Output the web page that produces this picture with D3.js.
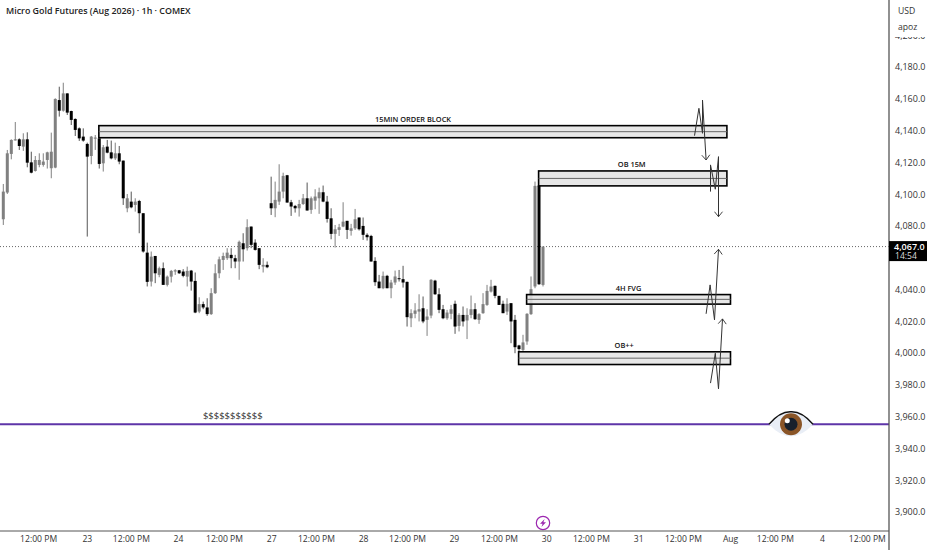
<!DOCTYPE html>
<html>
<head>
<meta charset="utf-8">
<script src="https://cdn.jsdelivr.net/npm/d3@7/dist/d3.min.js"></script>
<style>
html,body{margin:0;padding:0;background:#fff;overflow:hidden}
svg{display:block}
text{font-family:"Open Sans","Noto Sans",sans-serif}
</style>
</head>
<body>
<svg id="chart" width="932" height="550"></svg>
<script>
const title = "Micro Gold Futures (Aug 2026) · 1h · COMEX";
const opens = [4084.2,4101.0,4125.3,4133.8,4134.5,4129.9,4134.5,4120.0,4114.6,4118.4,4118.4,4121.5,4116.3,4116.7,4159.2,4152.5,4163.4,4152.3,4147.3,4141.4,4136.2,4131.6,4124.0,4134.9,4135.1,4119.4,4129.9,4126.3,4122.5,4125.7,4121.1,4091.1,4095.3,4093.2,4095.7,4088.0,4063.2,4045.0,4061.1,4049.2,4053.4,4042.9,4048.1,4051.3,4052.1,4051.3,4048.1,4051.9,4045.4,4026.1,4030.8,4028.7,4024.5,4037.7,4050.2,4058.6,4059.7,4061.8,4059.7,4057.6,4069.1,4066.0,4079.6,4069.5,4066.0,4054.4,4055.5,4094.3,4091.1,4095.3,4101.6,4111.9,4094.9,4092.6,4091.1,4093.8,4097.4,4090.1,4095.9,4097.4,4101.2,4095.3,4084.8,4075.0,4077.5,4079.6,4083.2,4076.9,4078.5,4085.3,4080.0,4074.4,4073.7,4058.0,4045.0,4040.8,4048.6,4040.8,4044.4,4047.1,4046.5,4044.8,4021.9,4024.7,4026.1,4028.2,4020.9,4023.6,4045.6,4037.0,4027.6,4021.9,4024.7,4031.0,4017.1,4024.0,4020.5,4024.0,4027.6,4020.9,4025.1,4030.3,4038.7,4042.3,4036.0,4031.0,4026.1,4031.4,4020.9,4004.8,4002.0,4007.3,4024.5,4041.9,4105.4,4042.9];
const closes = [4101.6,4125.7,4134.1,4134.5,4130.3,4134.5,4119.8,4113.5,4121.5,4121.5,4120.5,4126.3,4126.7,4159.9,4152.5,4163.4,4151.3,4146.7,4140.4,4135.1,4133.7,4123.6,4136.2,4135.6,4119.0,4129.5,4126.1,4122.5,4125.7,4120.5,4097.4,4097.4,4091.7,4095.3,4088.0,4063.9,4044.8,4060.7,4050.2,4053.4,4042.9,4048.1,4051.7,4052.1,4050.2,4048.6,4051.7,4045.0,4025.5,4030.8,4028.7,4024.5,4037.7,4050.2,4059.0,4061.1,4063.2,4059.7,4057.6,4070.0,4065.3,4079.2,4068.1,4064.9,4055.5,4055.5,4054.0,4091.1,4096.4,4101.6,4111.5,4094.7,4092.2,4091.1,4093.8,4097.4,4089.7,4097.4,4098.5,4101.2,4095.3,4084.4,4075.0,4077.9,4079.2,4082.7,4077.5,4078.5,4084.2,4077.9,4074.4,4072.9,4057.6,4044.6,4040.8,4048.6,4040.8,4044.4,4048.2,4046.5,4044.4,4022.6,4025.1,4026.8,4027.6,4019.9,4023.0,4046.1,4037.0,4027.2,4021.9,4025.5,4027.6,4016.7,4024.0,4019.9,4024.0,4027.6,4021.3,4024.5,4030.8,4039.1,4041.9,4036.0,4030.3,4025.1,4031.0,4019.9,4003.7,4002.5,4006.7,4024.7,4040.2,4105.2,4043.3,4067.0];
const highs = [4106.4,4127.8,4134.5,4145.4,4135.1,4138.3,4138.9,4126.7,4124.0,4125.7,4125.7,4126.7,4138.7,4160.3,4167.6,4170.1,4163.4,4152.5,4147.7,4142.0,4141.4,4132.4,4136.6,4137.2,4135.1,4130.9,4134.1,4133.7,4132.4,4130.3,4121.1,4100.1,4101.6,4097.4,4096.4,4088.0,4069.5,4063.9,4061.1,4054.4,4057.0,4048.8,4052.3,4052.8,4052.3,4052.8,4054.4,4052.3,4050.7,4035.1,4032.4,4034.5,4040.8,4055.9,4060.7,4063.2,4066.0,4066.0,4061.8,4070.8,4075.4,4084.2,4079.6,4071.6,4066.0,4059.7,4057.6,4111.0,4107.9,4118.8,4113.5,4112.1,4096.4,4093.2,4096.4,4100.1,4107.3,4098.5,4103.1,4104.1,4105.4,4098.9,4091.1,4080.6,4081.3,4094.9,4083.2,4081.3,4090.7,4085.3,4085.3,4075.4,4074.4,4060.3,4049.2,4051.3,4049.2,4046.1,4051.9,4052.3,4054.9,4045.0,4027.6,4031.4,4037.0,4035.6,4027.6,4046.5,4046.1,4040.8,4030.3,4027.2,4030.3,4033.0,4025.1,4029.3,4028.2,4036.2,4031.4,4025.1,4037.7,4042.9,4046.1,4042.5,4036.0,4033.0,4034.5,4031.4,4024.0,4005.2,4011.5,4025.1,4048.2,4107.9,4105.4,4067.0];
const lows = [4080.6,4100.1,4121.9,4133.7,4127.8,4127.2,4116.9,4113.1,4114.2,4116.9,4117.3,4116.1,4110.0,4116.3,4148.8,4151.9,4149.8,4143.5,4136.6,4133.5,4133.0,4073.3,4118.8,4127.8,4116.1,4114.2,4125.7,4121.9,4121.5,4118.8,4093.2,4088.6,4091.1,4089.0,4075.4,4063.2,4041.9,4041.9,4044.0,4047.7,4042.9,4041.9,4044.4,4049.2,4049.8,4047.7,4041.9,4039.3,4025.1,4025.1,4027.6,4023.4,4024.0,4037.2,4047.1,4052.3,4058.6,4053.4,4053.4,4046.1,4057.6,4064.5,4066.0,4064.5,4052.8,4050.7,4053.4,4086.9,4085.5,4093.2,4097.4,4094.7,4086.3,4088.4,4085.9,4093.2,4089.7,4087.6,4090.5,4087.6,4094.9,4082.1,4071.6,4066.4,4073.7,4079.2,4071.8,4073.9,4077.5,4077.1,4071.2,4070.8,4057.6,4042.3,4040.8,4040.2,4040.8,4034.5,4042.9,4045.0,4041.2,4016.7,4016.3,4021.9,4019.9,4018.8,4010.8,4021.9,4036.6,4025.1,4021.3,4020.9,4021.3,4012.1,4013.6,4016.7,4008.8,4021.9,4020.9,4018.4,4024.7,4029.7,4038.1,4034.5,4030.3,4025.1,4024.0,4006.2,3999.9,4001.0,4001.0,4005.2,4024.0,4040.8,4042.9,4041.9];
const priceTicks = [4200,4180,4160,4140,4120,4100,4080,4040,4020,4000,3980,3960,3940,3920,3900];
const timeTickBars = [8.7,20.9,31.9,43.7,55.2,67,78.2,90,101,112.7,124,135.8,147,158.8,170,181.8,193,204.8,216];
const timeTickLabels = ["12:00 PM","23","12:00 PM","24","12:00 PM","27","12:00 PM","28","12:00 PM","29","12:00 PM","30","12:00 PM","31","12:00 PM","Aug","12:00 PM","4","12:00 PM"];
const zoneNames = ["15MIN ORDER BLOCK","OB 15M","4H FVG","OB++"];
const zoneStartBar = [23.9,133.9,130.9,128.9];
const zoneEndBar = [181.0,181.0,181.9,181.9];
const zoneTop = [4143.1,4114.6,4036.8,4000.8];
const zoneBottom = [4135.5,4105.2,4030.8,3992.8];
const zoneLabelBar = [102.5,157.2,156.4,155.3];
const pathBars = [[172.9,174.0,174.9,174.9,175.8],[176.9,176.9,178.1,178.9,178.9],[175.8,176.8,177.9,178.9],[176.9,178.1,178.9,179.9]];
const pathPrices = [[4136.8,4154.0,4138.3,4159.2,4121.5],[4101.6,4118.4,4103.1,4123.6,4085.8],[4024.7,4042.9,4020.9,4065.3],[3981.1,3999.9,3977.5,4021.5]];
const lastPrice = 4067.0;
const countdown = "14:54";
const liquidityPrice = 3955.2;
const liquidityLabel = "$$$$$$$$$$$";
const currency = "USD";
const user = "apoz";

const svg = d3.select("#chart");
const x = d3.scaleLinear().domain([0,135]).range([3.3,543]);
const y = d3.scaleLinear().domain([4180,3900]).range([67,512]);
const axisX = 889, axisY = 531;
const upColor = "#808080", downColor = "#000";
const plot = svg.append("g");

plot.append("line").attr("x1",0).attr("x2",axisX).attr("y1",y(lastPrice)).attr("y2",y(lastPrice))
  .attr("stroke","#666").attr("stroke-width",1).attr("stroke-dasharray","1 2");

const bars = d3.range(opens.length);
plot.selectAll("line.wick").data(bars).join("line").attr("class","wick")
  .attr("x1",i=>x(i)).attr("x2",i=>x(i)).attr("y1",i=>y(highs[i])).attr("y2",i=>y(lows[i]))
  .attr("stroke",i=>closes[i]>=opens[i]?upColor:"#555").attr("stroke-width",1);
plot.selectAll("rect.body").data(bars).join("rect").attr("class","body")
  .attr("x",i=>x(i)-1.5).attr("width",3)
  .attr("y",i=>y(Math.max(opens[i],closes[i])))
  .attr("height",i=>Math.max(1,Math.abs(y(opens[i])-y(closes[i]))))
  .attr("fill",i=>closes[i]>=opens[i]?upColor:downColor);

zoneNames.forEach((n,i)=>{
  const g = plot.append("g");
  g.append("rect").attr("x",x(zoneStartBar[i])).attr("width",x(zoneEndBar[i])-x(zoneStartBar[i]))
    .attr("y",y(zoneTop[i])).attr("height",y(zoneBottom[i])-y(zoneTop[i]))
    .attr("fill","#e4e4e4").attr("fill-opacity",0.88).attr("stroke","#000").attr("stroke-width",1.6);
  const mid = (zoneTop[i]+zoneBottom[i])/2;
  g.append("line").attr("x1",x(zoneStartBar[i])).attr("x2",x(zoneEndBar[i])).attr("y1",y(mid)).attr("y2",y(mid))
    .attr("stroke","#666").attr("stroke-width",1);
  g.append("text").attr("x",x(zoneLabelBar[i])).attr("y",y(zoneTop[i])-3.5)
    .attr("text-anchor","middle").attr("font-size",7.4).attr("font-weight",600).attr("fill","#111").text(n);
});

const defs = svg.append("defs");
defs.append("marker").attr("id","arrow").attr("viewBox","-6 -5 7 10").attr("refX",0).attr("refY",0)
  .attr("markerWidth",7).attr("markerHeight",10).attr("markerUnits","userSpaceOnUse").attr("orient","auto")
  .append("path").attr("d","M-5,-4L0,0L-5,4").attr("fill","none").attr("stroke","#333").attr("stroke-width",0.9);
const pathLine = d3.line().x(d=>x(d[0])).y(d=>y(d[1]));
pathBars.forEach((b,i)=>{
  plot.append("path").datum(b.map((v,j)=>[v,pathPrices[i][j]])).attr("d",pathLine)
    .attr("fill","none").attr("stroke","#333").attr("stroke-width",1).attr("marker-end","url(#arrow)");
});

plot.append("line").attr("x1",0).attr("x2",axisX).attr("y1",y(liquidityPrice)).attr("y2",y(liquidityPrice))
  .attr("stroke","#5e35a8").attr("stroke-width",2);
plot.append("text").attr("x",x(57.4)).attr("y",y(liquidityPrice)-5).attr("text-anchor","middle")
  .attr("font-size",9.5).attr("fill","#333").text(liquidityLabel);

const eye = plot.append("g").attr("transform",`translate(791,${y(liquidityPrice)})`);
eye.append("path").attr("d","M-22,0Q-11,-13 0,-12.5Q11,-13 22,0Q11,12 0,12Q-11,12 -22,0Z").attr("fill","#e9eef6");
eye.append("path").attr("d","M-22,0Q-11,-13 0,-12.5Q11,-13 22,0").attr("fill","none").attr("stroke","#111").attr("stroke-width",1.3);
eye.append("circle").attr("r",11).attr("fill","#8a5527");
eye.append("circle").attr("r",6.5).attr("fill","#17202c");
eye.append("circle").attr("cx",-3.7).attr("cy",-3.6).attr("r",2.5).attr("fill","#fff");

const bolt = plot.append("g").attr("transform","translate(543,523)");
bolt.append("circle").attr("r",6.7).attr("fill","#fff").attr("stroke","#9c27b0").attr("stroke-width",1.2);
bolt.append("path").attr("d","M1.6,-4L-3,0.8L-0.4,0.8L-1.6,4L3,-0.8L0.4,-0.8Z").attr("fill","#9c27b0");

const yAxis = d3.axisRight(y).tickValues(priceTicks).tickSize(0).tickPadding(6).tickFormat(d3.format(",.1f"));
const gy = svg.append("g").attr("transform",`translate(${axisX},0)`).call(yAxis);
gy.select(".domain").remove();
gy.selectAll("text").attr("font-size",9).attr("fill","#333");

const xAxis = d3.axisBottom(x).tickValues(timeTickBars).tickSize(0).tickPadding(5)
  .tickFormat((d,i)=>timeTickLabels[i]);
const gx = svg.append("g").attr("transform",`translate(0,${axisY})`).call(xAxis);
gx.select(".domain").remove();
gx.selectAll("text").attr("font-size",8.6).attr("fill","#333");

svg.append("line").attr("x1",0).attr("x2",axisX).attr("y1",axisY).attr("y2",axisY).attr("stroke","#555").attr("stroke-width",1);
svg.append("line").attr("x1",axisX).attr("x2",axisX).attr("y1",0).attr("y2",550).attr("stroke","#555").attr("stroke-width",1.3);

svg.append("rect").attr("x",892).attr("y",0).attr("width",38).attr("height",37).attr("fill","#fff");
svg.append("text").attr("x",898).attr("y",14).attr("font-size",8.6).attr("fill","#333").text(currency);
svg.append("text").attr("x",898).attr("y",30).attr("font-size",8.6).attr("fill","#333").text(user);

svg.append("rect").attr("x",axisX).attr("y",y(lastPrice)-5.5).attr("width",38).attr("height",20).attr("fill","#000");
svg.append("text").attr("x",894).attr("y",y(lastPrice)+3).attr("font-size",9).attr("font-weight",600).attr("fill","#fff").text(d3.format(",.1f")(lastPrice));
svg.append("text").attr("x",895).attr("y",y(lastPrice)+12.5).attr("font-size",8.6).attr("fill","#ddd").text(countdown);

svg.append("text").attr("x",6).attr("y",14).attr("font-size",8.9).attr("font-weight",600).attr("fill","#222").text(title);
</script>
</body>
</html>
